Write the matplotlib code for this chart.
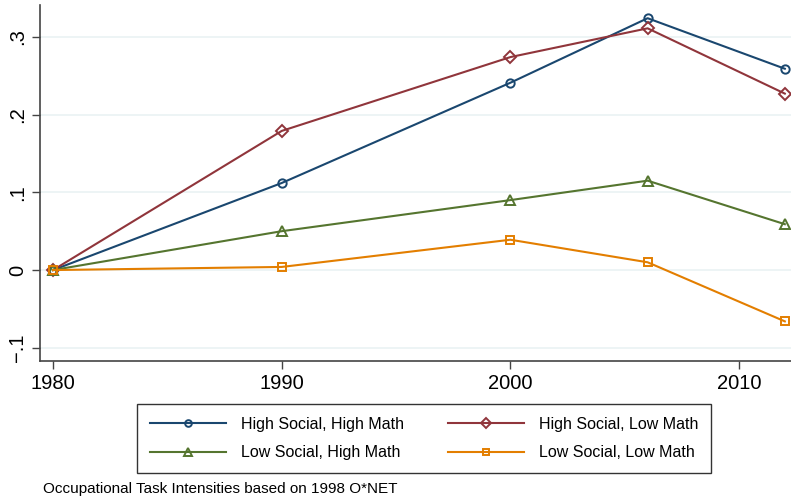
import numpy as np
import matplotlib
matplotlib.use("Agg")
import matplotlib.pyplot as plt

plt.rcParams['font.family'] = ['Liberation Sans', 'DejaVu Sans']

years = [1980, 1990, 2000, 2006, 2012]
hs_hm = [0.0, 0.112, 0.241, 0.324, 0.259]
hs_lm = [0.0, 0.179, 0.274, 0.311, 0.227]
ls_hm = [0.0, 0.050, 0.090, 0.115, 0.059]
ls_lm = [0.0, 0.004, 0.039, 0.010, -0.066]

labels = ["High Social, High Math", "High Social, Low Math",
          "Low Social, High Math", "Low Social, Low Math"]
colors = ["#1a476f", "#90353b", "#55752f", "#e37e00"]
markers = ["o", "D", "^", "s"]
msizes = [6, 6.5, 7, 6]

fig = plt.figure(figsize=(7.91, 4.98), dpi=100)
ax = fig.add_axes([40 / 791, 1 - 361 / 498, 1 - 40 / 791, (361 - 5) / 498])

series = [hs_hm, hs_lm, ls_hm, ls_lm]
handles = []
for vals, lab, c, m, ms in zip(series, labels, colors, markers, msizes):
    h, = ax.plot(years, vals, color=c, lw=1.5, marker=m, ms=ms,
                 mfc='none', mec=c, mew=1.4, label=lab)
    handles.append(h)

ax.set_xlim(1979.43, 2012.27)
ax.set_ylim(-0.117, 0.341)
ax.set_xticks([1980, 1990, 2000, 2010])
ax.set_yticks([-0.1, 0, 0.1, 0.2, 0.3])
ax.set_yticklabels(["\u2212.1", "0", ".1", ".2", ".3"], rotation=90, va='center')
ax.tick_params(labelsize=14.5, length=6, width=1, color='#444444')
ax.grid(axis='y', color='#eaf2f3', lw=1.2)
ax.set_axisbelow(True)
for s in ['top', 'right']:
    ax.spines[s].set_visible(False)
for s in ['left', 'bottom']:
    ax.spines[s].set_color('#444444')
    ax.spines[s].set_linewidth(1.2)

# row-wise order like the original
order = [0, 2, 1, 3]
leg = fig.legend([handles[i] for i in order], [labels[i] for i in order],
                 loc='upper left', bbox_to_anchor=(137 / 791, 1 - 404 / 498),
                 ncol=2, fontsize=11.5, frameon=True, fancybox=False,
                 edgecolor='black', handlelength=4.8, columnspacing=2.75,
                 borderpad=0.8, labelspacing=0.85, handletextpad=0.9,
                 borderaxespad=0, markerscale=0.8)
leg.get_frame().set_linewidth(1.0)

fig.text(43 / 791, 1 - 489 / 498, "Occupational Task Intensities based on 1998 O*NET",
         fontsize=11, va='center', ha='left')

fig.savefig("out.png", dpi=100)
